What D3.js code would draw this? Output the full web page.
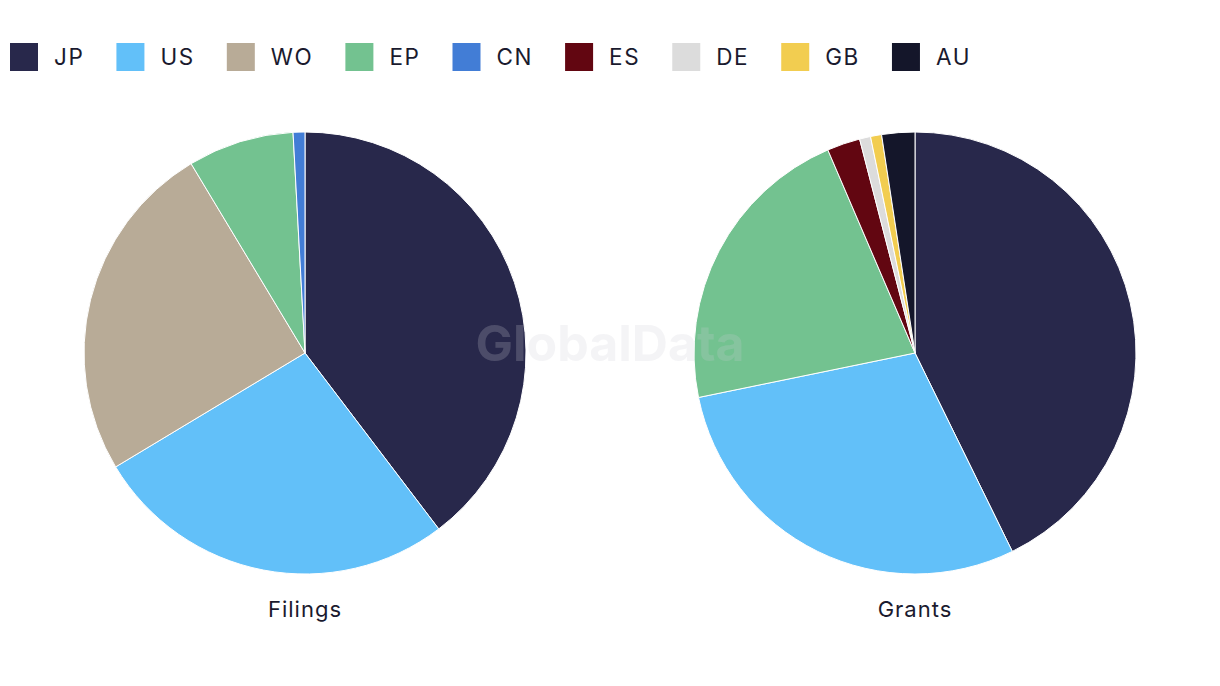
<!DOCTYPE html>
<html><head><meta charset="utf-8">
<script src="https://cdn.jsdelivr.net/npm/d3@7"></script>
<style>body{margin:0;background:#fff;}svg{display:block;}</style>
</head><body>
<svg id="chart" width="1220" height="686"></svg>
<script>
const categories = ["JP","US","WO","EP","CN","ES","DE","GB","AU"];
const colors = ["#28284b","#62c0f9","#b8ab97","#73c290","#427dd6","#620611","#dcdcdc","#f2cd50","#14162a"];
const filings = [46,31,29,9,1,0,0,0,0];
const grants  = [53,36,0,27,0,3,1,1,3];
const pieTitles = ["Filings","Grants"];

const svg = d3.select("#chart");
const font = "Inter, 'Liberation Sans', sans-serif";
const color = d3.scaleOrdinal().domain(categories).range(colors);

// legend
const legend = svg.append("g");
let x = 10;
categories.forEach(c => {
  legend.append("rect").attr("x", x).attr("y", 43).attr("width", 28).attr("height", 28).attr("fill", color(c));
  const t = legend.append("text").attr("x", x + 44).attr("y", 65)
    .attr("font-family", font).attr("font-size", 22.5).attr("letter-spacing", 1.6)
    .attr("fill", "#1a1a2e").text(c);
  x += 44 + t.node().getComputedTextLength() + 32;
});

const pie = d3.pie().sort(null).value(d => d.v);
const arc = d3.arc().innerRadius(0).outerRadius(221);
const centers = [305, 915];
[filings, grants].forEach((vals, i) => {
  const data = categories.map((c, j) => ({c, v: vals[j]})).filter(d => d.v > 0);
  const g = svg.append("g").attr("transform", `translate(${centers[i]},353)`);
  g.selectAll("path").data(pie(data)).join("path")
    .attr("d", arc).attr("fill", d => color(d.data.c))
    .attr("stroke", "#fff").attr("stroke-width", 1);
  svg.append("text").attr("x", centers[i]).attr("y", 617).attr("text-anchor", "middle")
    .attr("font-family", font).attr("font-size", 22).attr("letter-spacing", 1)
    .attr("fill", "#1a1a2e").text(pieTitles[i]);
});

// watermark
svg.append("text").attr("x", 610).attr("y", 361).attr("text-anchor", "middle")
  .attr("font-family", font).attr("font-weight", 700)
  .attr("font-size", 50).attr("fill", "#cfcfd6").attr("fill-opacity", 0.22).text("GlobalData");
</script>
</body></html>
